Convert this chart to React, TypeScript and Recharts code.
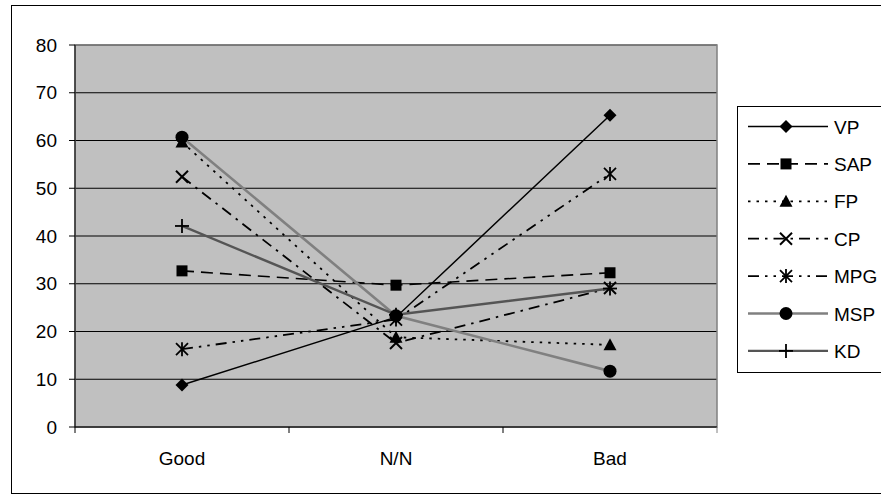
import React from "react";
import { CartesianGrid, Line, LineChart, ReferenceArea, XAxis, YAxis } from "recharts";

const categories = ["Good", "N/N", "Bad"];
const vp = [8.8, 23.0, 65.3];
const sap = [32.7, 29.7, 32.3];
const fp = [59.7, 18.8, 17.2];
const cp = [52.4, 17.6, 29.1];
const mpg = [16.3, 22.5, 53.0];
const msp = [60.7, 23.3, 11.7];
const kd = [42.1, 23.5, 29.0];
const yTicks = [0, 10, 20, 30, 40, 50, 60, 70, 80];

const data = categories.map((name, i) => ({
  name,
  VP: vp[i],
  SAP: sap[i],
  FP: fp[i],
  CP: cp[i],
  MPG: mpg[i],
  MSP: msp[i],
  KD: kd[i],
}));

type Shape = "diamond" | "square" | "triangle" | "x" | "star" | "circle" | "plus";

const series: { key: string; color: string; width: number; dash?: string; shape: Shape }[] = [
  { key: "VP", color: "#000", width: 1.5, shape: "diamond" },
  { key: "SAP", color: "#000", width: 1.6, dash: "12 7", shape: "square" },
  { key: "FP", color: "#000", width: 1.8, dash: "2.5 6", shape: "triangle" },
  { key: "CP", color: "#000", width: 1.8, dash: "11 6 2.5 6", shape: "x" },
  { key: "MPG", color: "#000", width: 1.8, dash: "11 6 2.5 6 2.5 6", shape: "star" },
  { key: "MSP", color: "#808080", width: 2.6, shape: "circle" },
  { key: "KD", color: "#555", width: 2.4, shape: "plus" },
];

const font = '"Liberation Sans", Arial, sans-serif';
const fs = 19;

function Marker({ cx, cy, shape }: { cx: number; cy: number; shape: Shape }) {
  if (cx == null || cy == null) return null;
  switch (shape) {
    case "diamond":
      return <polygon points={`${cx},${cy - 6.5} ${cx + 6.5},${cy} ${cx},${cy + 6.5} ${cx - 6.5},${cy}`} fill="#000" />;
    case "square":
      return <rect x={cx - 5.5} y={cy - 5.5} width={11} height={11} fill="#000" />;
    case "triangle":
      return <polygon points={`${cx},${cy - 6.5} ${cx + 6.5},${cy + 5.5} ${cx - 6.5},${cy + 5.5}`} fill="#000" />;
    case "x":
      return (
        <g stroke="#000" strokeWidth={2}>
          <line x1={cx - 6} y1={cy - 6} x2={cx + 6} y2={cy + 6} />
          <line x1={cx - 6} y1={cy + 6} x2={cx + 6} y2={cy - 6} />
        </g>
      );
    case "star":
      return (
        <g stroke="#000" strokeWidth={1.8}>
          <line x1={cx - 6} y1={cy - 6} x2={cx + 6} y2={cy + 6} />
          <line x1={cx - 6} y1={cy + 6} x2={cx + 6} y2={cy - 6} />
          <line x1={cx} y1={cy - 7} x2={cx} y2={cy + 7} />
        </g>
      );
    case "circle":
      return <circle cx={cx} cy={cy} r={6.5} fill="#000" />;
    case "plus":
      return (
        <g stroke="#000" strokeWidth={1.8}>
          <line x1={cx - 7} y1={cy} x2={cx + 7} y2={cy} />
          <line x1={cx} y1={cy - 7} x2={cx} y2={cy + 7} />
        </g>
      );
  }
  return null;
}

function CategoryTick(props: any) {
  const { x, y, payload, index } = props;
  const half = payload?.offset || 107;
  return (
    <g>
      <line x1={x - half} y1={y - 8} x2={x - half} y2={y - 2} stroke="#000" />
      {index === categories.length - 1 && (
        <line x1={x + half} y1={y - 8} x2={x + half} y2={y - 2} stroke="#808080" />
      )}
      <text x={x} y={y + 30} textAnchor="middle" fontSize={fs} fontFamily={font} fill="#000">
        {payload.value}
      </text>
    </g>
  );
}

function LegendBox() {
  return (
    <div
      style={{
        position: "absolute",
        left: 737,
        top: 106,
        width: 160,
        height: 267,
        border: "1px solid #000",
        background: "#fff",
        boxSizing: "border-box",
      }}
    >
      <svg width={158} height={265} style={{ display: "block" }}>
        {series.map((s, i) => {
          const y = 19.5 + i * 37.4;
          return (
            <g key={s.key}>
              <line
                x1={10}
                x2={90}
                y1={y}
                y2={y}
                stroke={s.color}
                strokeWidth={s.width}
                strokeDasharray={s.dash}
              />
              <Marker cx={48} cy={y} shape={s.shape} />
              <text x={96} y={y + 7} fontSize={fs} fontFamily={font} fill="#000">
                {s.key}
              </text>
            </g>
          );
        })}
      </svg>
    </div>
  );
}

export default function App() {
  return (
    <div
      style={{
        position: "absolute",
        left: 0,
        top: 0,
        width: 881,
        height: 500,
        background: "#fff",
        overflow: "hidden",
      }}
    >
      <div
        style={{
          position: "absolute",
          left: 11,
          top: 5,
          width: 890,
          height: 489,
          border: "1px solid #000",
          boxSizing: "border-box",
        }}
      />
      <div style={{ position: "absolute", left: 0, top: 0 }}>
        <LineChart
          width={881}
          height={500}
          data={data}
          margin={{ top: 45, right: 164, bottom: 43, left: 30 }}
        >
          <CartesianGrid vertical={false} horizontal stroke="#000" fill="#c0c0c0" fillOpacity={1} />
          <ReferenceArea y1={0} y2={80} fill="none" stroke="#808080" strokeWidth={1.5} />
          <XAxis
            dataKey="name"
            scale="band"
            height={30}
            axisLine={{ stroke: "#000" }}
            tickLine={false}
            tick={<CategoryTick />}
            interval={0}
          />
          <YAxis
            domain={[0, 80]}
            ticks={yTicks}
            width={45}
            axisLine={{ stroke: "#000" }}
            tickLine={{ stroke: "#000" }}
            tickSize={6}
            tickMargin={12}
            tick={{ fill: "#000", fontSize: fs, fontFamily: font }}
          />
          {series.map((s) => (
            <Line
              key={s.key}
              dataKey={s.key}
              type="linear"
              stroke={s.color}
              strokeWidth={s.width}
              strokeDasharray={s.dash}
              isAnimationActive={false}
              dot={(p: any) => <Marker key={`${s.key}-${p.index}`} cx={p.cx} cy={p.cy} shape={s.shape} />}
              activeDot={false}
            />
          ))}
        </LineChart>
      </div>
      <LegendBox />
    </div>
  );
}
